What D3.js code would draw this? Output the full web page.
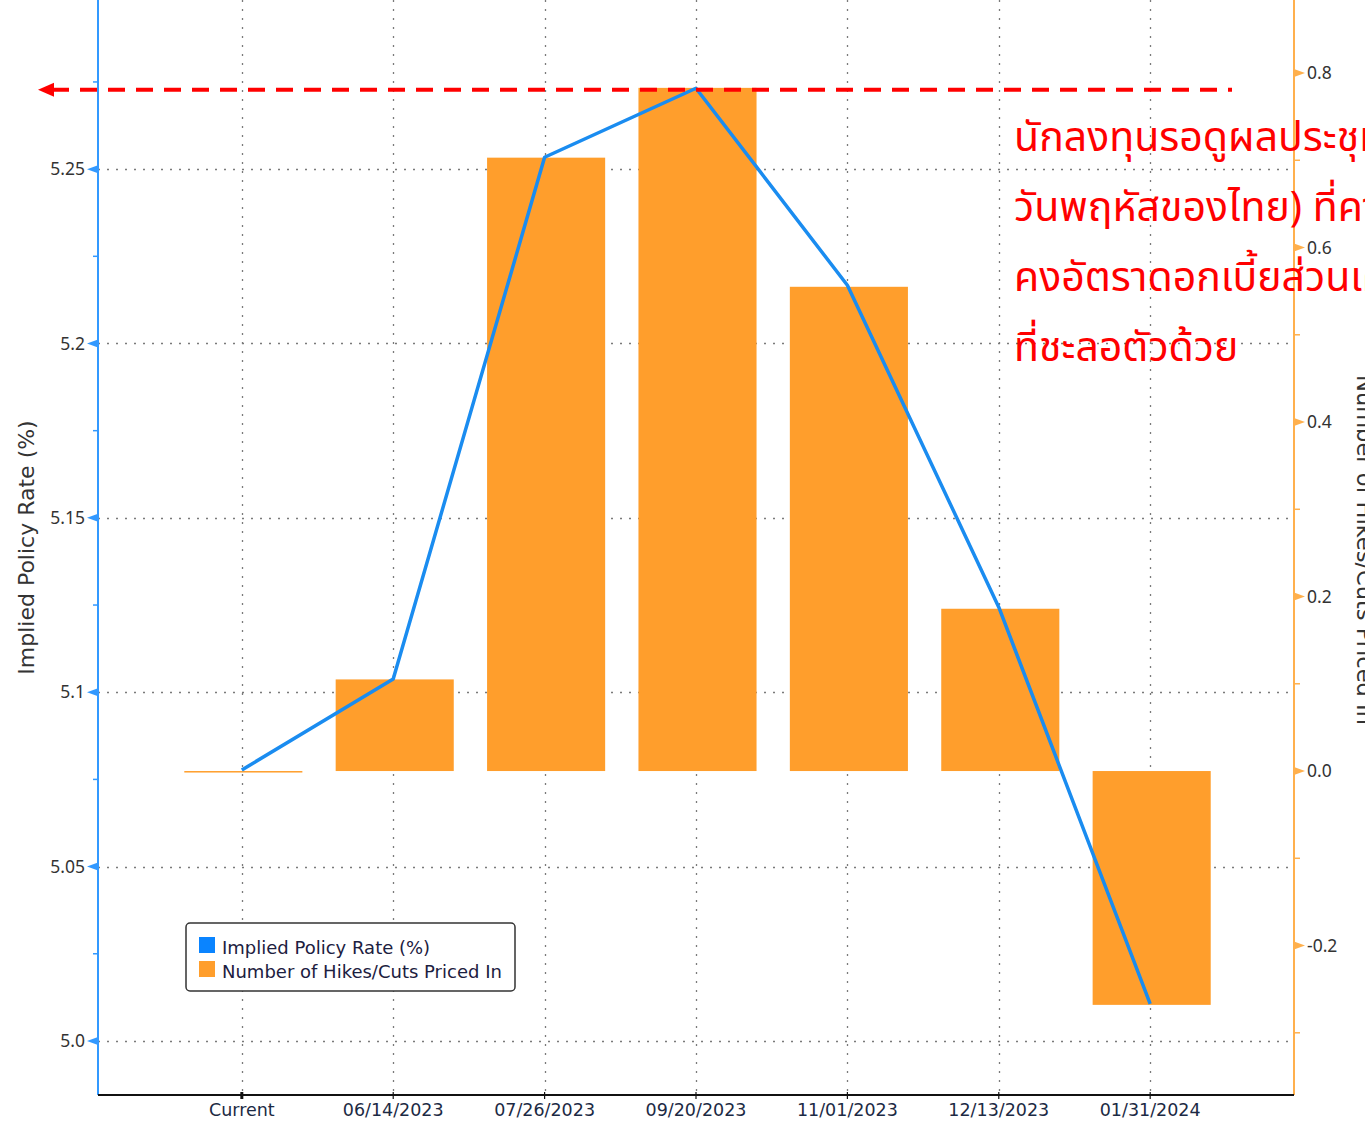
<!DOCTYPE html>
<html><head><meta charset="utf-8">
<script src="https://cdn.jsdelivr.net/npm/d3@7"></script>
<style>
html,body{margin:0;padding:0;background:#fff;overflow:hidden;}
svg{display:block;}
</style></head>
<body>
<script>
const categories = ["Current","06/14/2023","07/26/2023","09/20/2023","11/01/2023","12/13/2023","01/31/2024"];
const impliedRate = [5.0777,5.1038,5.2534,5.2732,5.2167,5.1244,5.0106];
const hikesPriced = [0.0,0.105,0.703,0.783,0.555,0.186,-0.268];
const leftTicks = [5.0,5.05,5.1,5.15,5.2,5.25];
const leftTickLabels = ["5.0","5.05","5.1","5.15","5.2","5.25"];
const leftMinor = [5.025,5.075,5.125,5.175,5.225,5.275];
const rightTicks = [-0.2,0.0,0.2,0.4,0.6,0.8];
const rightTickLabels = ["-0.2","0.0","0.2","0.4","0.6","0.8"];
const rightMinor = [-0.3,-0.1,0.1,0.3,0.5,0.7];
const markerLevel = 5.2732;
const thaiLines = ["นักลงทุนรอดูผลประชุมเฟด (คืน","วันพฤหัสของไทย) ที่คาดว่าจะ","คงอัตราดอกเบี้ยส่วนเศรษฐกิจ","ที่ชะลอตัวด้วย"];
const legendItems = ["Implied Policy Rate (%)","Number of Hikes/Cuts Priced In"];

const W=1365,H=1121;
const L=98,R=1294,T=0,B=1095;
const blue="#1a8cf0", orange="#ff9e2c", axisBlue="#3399ff", axisOrange="#ffb04d";

const svg=d3.select("body").append("svg").attr("width",W).attr("height",H);

const x=d3.scalePoint().domain(categories).range([L,R]).padding(0.95);
const yL=d3.scaleLinear().domain([4.9845,5.2985]).range([B,T]);
const yR=d3.scaleLinear().domain([-0.3713,0.8837]).range([B,T]);
const barW=x.step()*0.78;

// grid
const grid=svg.append("g").attr("stroke","#7a7a7a").attr("stroke-width",1.3).attr("stroke-dasharray","2,7");
grid.selectAll("line.h").data(leftTicks).join("line").attr("class","h")
  .attr("x1",L).attr("x2",R).attr("y1",d=>Math.round(yL(d))+0.5).attr("y2",d=>Math.round(yL(d))+0.5);
grid.selectAll("line.v").data(categories).join("line").attr("class","v")
  .attr("x1",d=>Math.round(x(d))+0.5).attr("x2",d=>Math.round(x(d))+0.5).attr("y1",T).attr("y2",B);

// bars
svg.append("g").selectAll("rect").data(categories).join("rect")
  .attr("x",d=>x(d)-barW/2+1.5).attr("width",barW)
  .attr("y",(d,i)=>Math.min(yR(0),yR(hikesPriced[i])))
  .attr("height",(d,i)=>Math.max(1.5,Math.abs(yR(hikesPriced[i])-yR(0))))
  .attr("fill",orange);

// line
svg.append("path").datum(categories)
  .attr("fill","none").attr("stroke",blue).attr("stroke-width",3.5).attr("stroke-linejoin","round")
  .attr("d",d3.line().x(d=>x(d)).y((d,i)=>yL(impliedRate[i])));

// left axis
const la=svg.append("g");
la.append("line").attr("x1",L).attr("x2",L).attr("y1",T).attr("y2",B).attr("stroke",axisBlue).attr("stroke-width",2);
la.selectAll("path.tri").data(leftTicks).join("path").attr("class","tri")
  .attr("d",d=>{const y=yL(d);return `M${L},${y-4}L${L-11},${y}L${L},${y+4}Z`;}).attr("fill",axisBlue);
la.selectAll("line.mn").data(leftMinor).join("line").attr("class","mn")
  .attr("x1",L-5).attr("x2",L).attr("y1",d=>yL(d)).attr("y2",d=>yL(d)).attr("stroke",axisBlue).attr("stroke-width",1.5);
la.selectAll("text").data(leftTicks).join("text")
  .attr("x",L-13).attr("y",d=>yL(d)).attr("dy","0.35em").attr("text-anchor","end")
  .attr("font-family","Noto Sans, sans-serif").attr("font-size",17.5).attr("fill","#333")
  .text((d,i)=>leftTickLabels[i]);
svg.append("text").attr("transform",`translate(34,${(415+680)/2}) rotate(-90)`)
  .attr("text-anchor","middle").attr("font-family","DejaVu Sans, sans-serif").attr("font-size",22).attr("fill","#333")
  .text("Implied Policy Rate (%)");

// right axis
const ra=svg.append("g");
ra.append("line").attr("x1",R).attr("x2",R).attr("y1",T).attr("y2",B).attr("stroke",axisOrange).attr("stroke-width",2);
ra.selectAll("path.tri").data(rightTicks).join("path").attr("class","tri")
  .attr("d",d=>{const y=yR(d);return `M${R},${y-4}L${R+11},${y}L${R},${y+4}Z`;}).attr("fill",axisOrange);
ra.selectAll("line.mn").data(rightMinor).join("line").attr("class","mn")
  .attr("x1",R).attr("x2",R+6).attr("y1",d=>yR(d)).attr("y2",d=>yR(d)).attr("stroke",axisOrange).attr("stroke-width",1.5);
ra.selectAll("text").data(rightTicks).join("text")
  .attr("x",R+13).attr("y",d=>yR(d)).attr("dy","0.35em").attr("text-anchor","start")
  .attr("font-family","Noto Sans, sans-serif").attr("font-size",17.5).attr("fill","#333")
  .text((d,i)=>rightTickLabels[i]);
svg.append("text").attr("transform",`translate(1357,550) rotate(90)`)
  .attr("text-anchor","middle").attr("font-family","DejaVu Sans, sans-serif").attr("font-size",22.5).attr("fill","#333")
  .text("Number of Hikes/Cuts Priced In");

// bottom axis
const ba=svg.append("g");
ba.append("line").attr("x1",L).attr("x2",R).attr("y1",B).attr("y2",B).attr("stroke","#111").attr("stroke-width",2);
ba.selectAll("line.tk").data(categories).join("line").attr("class","tk")
  .attr("x1",d=>x(d)).attr("x2",d=>x(d)).attr("y1",B-3).attr("y2",B+4)
  .attr("stroke","#111").attr("stroke-width",(d,i)=>i===0?3:1.2);
ba.selectAll("text").data(categories).join("text")
  .attr("x",d=>x(d)).attr("y",B+21).attr("text-anchor","middle")
  .attr("font-family","DejaVu Sans, sans-serif").attr("font-size",17.5).attr("fill","#1c2a44")
  .text(d=>d);

// red dashed marker
svg.append("line").attr("x1",52).attr("x2",1232).attr("y1",yL(markerLevel)+1.5).attr("y2",yL(markerLevel)+1.5)
  .attr("stroke","#ff0000").attr("stroke-width",4).attr("stroke-dasharray","17,11");
svg.append("path").attr("d",`M38,${yL(markerLevel)+1.5}L54,${yL(markerLevel)-5.5}L54,${yL(markerLevel)+8.5}Z`).attr("fill","#ff0000");

// Thai annotation
svg.append("g").selectAll("text").data(thaiLines).join("text")
  .attr("x",1014).attr("y",(d,i)=>151+i*70)
  .attr("font-family","Noto Sans Thai, Noto Sans, sans-serif").attr("font-size",41).attr("fill","#ff0000")
  .text(d=>d);

// legend
const lg=svg.append("g");
lg.append("rect").attr("x",186).attr("y",923).attr("width",329).attr("height",68).attr("rx",4)
  .attr("fill","#fff").attr("stroke","#333").attr("stroke-width",1.5);
lg.selectAll("rect.sw").data(legendItems).join("rect").attr("class","sw")
  .attr("x",199).attr("y",(d,i)=>937+i*24).attr("width",16).attr("height",16)
  .attr("fill",(d,i)=>i===0?"#0a84ff":orange);
lg.selectAll("text").data(legendItems).join("text")
  .attr("x",222).attr("y",(d,i)=>954+i*24)
  .attr("font-family","DejaVu Sans, sans-serif").attr("font-size",18).attr("fill","#1c2040")
  .text(d=>d);
</script>
</body></html>
